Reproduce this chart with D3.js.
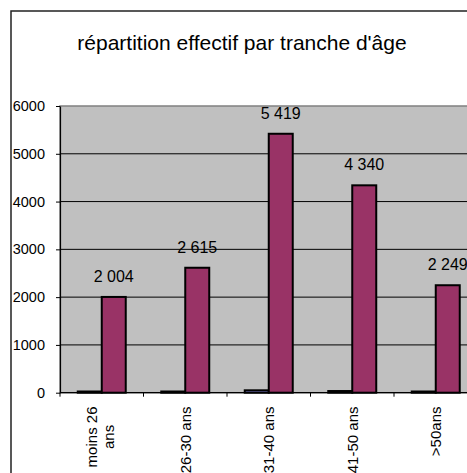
<!DOCTYPE html>
<html lang="fr">
<head>
<meta charset="UTF-8">
<title>répartition effectif par tranche d'âge</title>
<style>
  body { margin: 0; background: #fff; }
  svg { display: block; overflow: hidden; }
  text { font-family: Arial, "Liberation Sans", sans-serif; fill: #000; }
</style>
</head>
<body>
<svg width="467" height="473"></svg>
<script src="https://d3js.org/d3.v7.min.js"></script>
<script>
const categories = ["moins 26 ans", "26-30 ans", "31-40 ans", "41-50 ans", ">50ans"];
const seriesSmall = [25, 25, 50, 35, 25];
const seriesEffectif = [2004, 2615, 5419, 4340, 2249];
const yTicks = [0, 1000, 2000, 3000, 4000, 5000, 6000];
const title = "répartition effectif par tranche d'âge";

const svg = d3.select("svg");

// chart is wider than the window, the right side gets cut like in the original
const plot = { left: 60, top: 106, right: 477.5, bottom: 392.7 };

// outer chart border
svg.append("rect")
    .attr("x", 11).attr("y", 11)
    .attr("width", 470).attr("height", 480)
    .attr("fill", "#fff")
    .attr("stroke", "#222")
    .attr("stroke-width", 1.5);

svg.append("text")
    .attr("x", 242).attr("y", 50)
    .attr("text-anchor", "middle")
    .style("font-size", "21px")
    .text(title);

const x = d3.scaleBand()
    .domain(categories)
    .range([plot.left, plot.right])
    .padding(0);

const xs = d3.scaleBand()
    .domain(["small", "effectif"])
    .range([0, x.bandwidth()])
    .paddingInner(0)
    .paddingOuter(0.74);

const y = d3.scaleLinear()
    .domain([0, 6000])
    .range([plot.bottom, plot.top]);

// plot area
svg.append("rect")
    .attr("x", plot.left).attr("y", plot.top)
    .attr("width", plot.right - plot.left)
    .attr("height", plot.bottom - plot.top)
    .attr("fill", "#c0c0c0")
    .attr("stroke", "#808080")
    .attr("stroke-width", 1.5);

svg.append("g")
  .selectAll("line")
  .data(yTicks.filter(d => d > 0 && d < 6000))
  .join("line")
    .attr("x1", plot.left).attr("x2", plot.right)
    .attr("y1", d => y(d)).attr("y2", d => y(d))
    .attr("stroke", "#000")
    .attr("stroke-width", 1);

// bars
const fmt = d3.formatLocale({ decimal: ",", thousands: " ", grouping: [3], currency: ["", ""] }).format(",d");

const groups = svg.append("g")
  .selectAll("g")
  .data(categories)
  .join("g")
    .attr("transform", d => `translate(${x(d)},0)`);

groups.append("rect")
    .attr("x", xs("small"))
    .attr("width", xs.bandwidth())
    .attr("y", (d, i) => y(seriesSmall[i]))
    .attr("height", (d, i) => y(0) - y(seriesSmall[i]))
    .attr("fill", "#9999ff")
    .attr("stroke", "#000")
    .attr("stroke-width", 2);

groups.append("rect")
    .attr("x", xs("effectif"))
    .attr("width", xs.bandwidth())
    .attr("y", (d, i) => y(seriesEffectif[i]))
    .attr("height", (d, i) => y(0) - y(seriesEffectif[i]))
    .attr("fill", "#993366")
    .attr("stroke", "#000")
    .attr("stroke-width", 2);

groups.append("text")
    .attr("x", xs("effectif") + xs.bandwidth() / 2)
    .attr("y", (d, i) => y(seriesEffectif[i]) - 15)
    .attr("text-anchor", "middle")
    .style("font-size", "16px")
    .text((d, i) => fmt(seriesEffectif[i]));

// y axis
const yAxis = svg.append("g")
    .attr("transform", `translate(${plot.left},0)`)
    .call(d3.axisLeft(y).tickValues(yTicks).tickFormat(d3.format("d")).tickSize(4).tickSizeOuter(0).tickPadding(11));
yAxis.select(".domain").attr("stroke", "#000").attr("stroke-width", 1.2);
yAxis.selectAll(".tick line").attr("stroke", "#000");
yAxis.selectAll("text").style("font-size", "14.5px").attr("font-family", null);

// x axis: ticks on the category boundaries
const xAxis = svg.append("g");
xAxis.append("line")
    .attr("x1", plot.left).attr("x2", plot.right)
    .attr("y1", plot.bottom).attr("y2", plot.bottom)
    .attr("stroke", "#000").attr("stroke-width", 1.2);
xAxis.selectAll("line.tk")
  .data(categories)
  .join("line")
    .attr("class", "tk")
    .attr("x1", d => x(d)).attr("x2", d => x(d))
    .attr("y1", plot.bottom).attr("y2", plot.bottom + 4)
    .attr("stroke", "#000");

// category labels, rotated and wrapped
const labelTop = 406.5;
const lineGap = 16.5;
function wrap(label, maxW) {
  const words = label.split(" ");
  const lines = [];
  let cur = "";
  words.forEach(w => {
    const test = cur ? cur + " " + w : w;
    if (cur && test.length * 7.6 > maxW) { lines.push(cur); cur = w; }
    else cur = test;
  });
  lines.push(cur);
  return lines;
}

categories.forEach(cat => {
  const lines = wrap(cat, 80);
  const cx = x(cat) + x.bandwidth() / 2;
  const g = svg.append("g");
  const texts = lines.map((ln, i) => {
    const bx = cx + 5.5 + (i - (lines.length - 1) / 2) * lineGap - (lines.length > 1 ? 2 : 0);
    return g.append("text")
        .attr("transform", `translate(${bx},${labelTop}) rotate(-90)`)
        .style("font-size", "15px")
        .text(ln);
  });
  const widths = texts.map(t => t.node().getComputedTextLength());
  const maxW = d3.max(widths);
  texts.forEach((t, i) => {
    t.attr("text-anchor", "middle")
     .attr("x", -maxW / 2);
  });
});
</script>
</body>
</html>
